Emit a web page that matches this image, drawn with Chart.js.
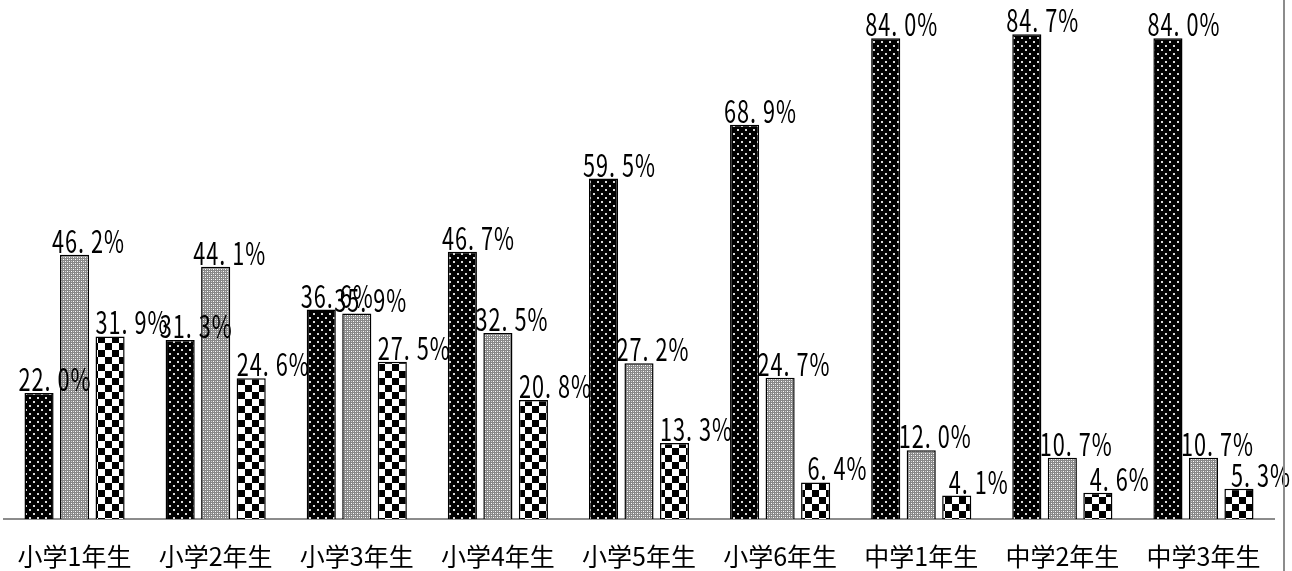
<!DOCTYPE html>
<html lang="ja">
<head>
<meta charset="utf-8">
<title>学年別 割合</title>
<script src="https://cdn.jsdelivr.net/npm/chart.js@4/dist/chart.umd.min.js"></script>
<style>
  html, body { margin: 0; padding: 0; background: #fff; }
  #wrap { position: relative; width: 1292px; height: 571px; }
</style>
</head>
<body>
<div id="wrap"><canvas id="barChart"></canvas></div>
<script>
// 学年ごとの割合（%）
const categories = ['小学1年生', '小学2年生', '小学3年生', '小学4年生', '小学5年生', '小学6年生', '中学1年生', '中学2年生', '中学3年生'];
const seriesNames = ['系列1', '系列2', '系列3'];
const series1 = [22.0, 31.3, 36.6, 46.7, 59.5, 68.9, 84.0, 84.7, 84.0];
const series2 = [46.2, 44.1, 35.9, 32.5, 27.2, 24.7, 12.0, 10.7, 10.7];
const series3 = [31.9, 24.6, 27.5, 20.8, 13.3, 6.4, 4.1, 4.6, 5.3];

const LABEL_FONT = '"Noto Sans CJK JP", "Noto Sans", sans-serif';

/**
 * 小さなタイルを描いてパターン塗りを作る。
 */
function makePattern(size, paint) {
    const tile = document.createElement('canvas');
    tile.width = size;
    tile.height = size;
    const tctx = tile.getContext('2d');
    paint(tctx, size);
    return document.createElement('canvas').getContext('2d').createPattern(tile, 'repeat');
}

// 黒地に白い点
const dotPattern = makePattern(8, (c, s) => {
    c.fillStyle = '#000';
    c.fillRect(0, 0, s, s);
    c.fillStyle = '#d8d8d8';
    c.fillRect(1, 1, 2, 2);
    c.fillRect(5, 5, 2, 2);
});

// 細かい灰色の網目
const grayPattern = makePattern(4, (c, s) => {
    c.fillStyle = '#888';
    c.fillRect(0, 0, s, s);
    c.fillStyle = '#fff';
    c.fillRect(1, 1, 1, 1);
    c.fillRect(3, 3, 1, 1);
    c.fillStyle = '#ccc';
    c.fillRect(3, 1, 1, 1);
    c.fillRect(1, 3, 1, 1);
});

// 白黒の市松模様
const checkerPattern = makePattern(14, (c, s) => {
    c.fillStyle = '#fff';
    c.fillRect(0, 0, s, s);
    c.fillStyle = '#000';
    c.fillRect(0, 0, 7, 7);
    c.fillRect(7, 7, 7, 7);
});

/**
 * 棒の上に値ラベル（縦長の等幅風数字）を描くプラグイン。
 */
const valueLabels = {
    id: 'valueLabels',
    afterDatasetsDraw(chart) {
        const ctx = chart.ctx;
        const shift = [12, 10, 18];
        const cell = 13;
        ctx.save();
        ctx.fillStyle = '#000';
        ctx.font = '31px ' + LABEL_FONT;
        ctx.textBaseline = 'alphabetic';
        ctx.textAlign = 'left';
        chart.data.datasets.forEach((ds, i) => {
            const meta = chart.getDatasetMeta(i);
            meta.data.forEach((bar, j) => {
                const text = ds.data[j].toFixed(1) + '%';
                const startX = bar.x + shift[i] - (text.length * cell) / 2;
                const baseY = bar.y - 2;
                for (let k = 0; k < text.length; k++) {
                    ctx.save();
                    ctx.translate(startX + k * cell, baseY);
                    ctx.scale(0.7, 1);
                    ctx.fillText(text[k], 0, 0);
                    ctx.restore();
                }
            });
        });
        ctx.restore();
    }
};

/**
 * 右端の縦線（枠線）。
 */
const rightEdge = {
    id: 'rightEdge',
    afterDraw(chart) {
        const ctx = chart.ctx;
        ctx.save();
        ctx.strokeStyle = '#8c8c8c';
        ctx.lineWidth = 2;
        ctx.beginPath();
        ctx.moveTo(1284, 0);
        ctx.lineTo(1284, chart.height);
        ctx.stroke();
        ctx.restore();
    }
};

function initializeChart() {
    const canvas = document.getElementById('barChart');
    const fills = [dotPattern, grayPattern, checkerPattern];
    const values = [series1, series2, series3];

    new Chart(canvas.getContext('2d'), {
        type: 'bar',
        data: {
            labels: categories,
            datasets: values.map((v, i) => ({
                label: seriesNames[i],
                data: v,
                backgroundColor: fills[i],
                borderColor: '#000',
                borderWidth: 1.5,
                borderSkipped: 'bottom',
                categoryPercentage: 0.755,
                barPercentage: 0.82
            }))
        },
        options: {
            responsive: true,
            maintainAspectRatio: false,
            animation: false,
            layout: { padding: { left: 4, right: 18, top: 4, bottom: 0 } },
            plugins: {
                legend: { display: false },
                title: { display: false },
                tooltip: { enabled: false }
            },
            scales: {
                x: {
                    grid: { display: false },
                    border: { display: true, color: '#8c8c8c', width: 2 },
                    ticks: {
                        color: '#000',
                        padding: 14,
                        maxRotation: 0,
                        font: { family: LABEL_FONT, size: 25 }
                    },
                    // 軸の高さを固定して、棒の基線位置を決める
                    afterFit(scale) {
                        scale.height = 52;
                    }
                },
                y: {
                    display: false,
                    min: 0,
                    max: 90
                }
            }
        },
        plugins: [valueLabels, rightEdge]
    });
}

document.addEventListener('DOMContentLoaded', initializeChart);
</script>
</body>
</html>
